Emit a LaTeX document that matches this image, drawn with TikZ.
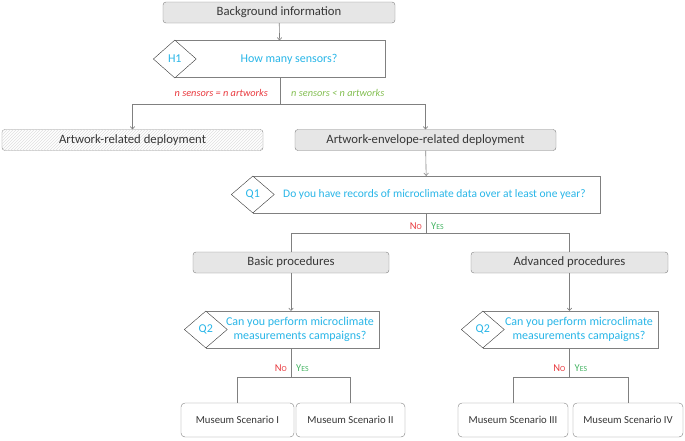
\documentclass[tikz,border=0pt]{standalone}
\usepackage{fontspec}
\setmainfont{Carlito}
\usepackage{tikz}
\usetikzlibrary{arrows.meta, positioning, shapes.geometric, patterns}

\definecolor{qcyan}{RGB}{41,182,232}
\definecolor{nored}{RGB}{232,56,61}
\definecolor{yesgreen}{RGB}{70,180,100}
\definecolor{ltgreen}{RGB}{130,190,80}
\definecolor{boxgray}{RGB}{230,230,230}
\definecolor{linegray}{RGB}{128,128,128}
\definecolor{txtgray}{RGB}{55,55,55}

% hand-made small caps (the font has none)
\newcommand{\fakesc}[2]{#1{\fontsize{7.8}{9}\selectfont\MakeUppercase{#2}}}

\begin{document}
\begin{tikzpicture}[
  x=1pt, y=-1pt,
  stepbox/.style={draw=linegray, rounded corners=3pt, fill=boxgray, minimum height=21pt,
              inner sep=0pt, align=center, text=txtgray, font=\fontsize{12.7}{14}\selectfont},
  scenbox/.style={stepbox, fill=white, minimum height=34pt, rounded corners=4pt,
              font=\fontsize{10.7}{12}\selectfont},
  qbox/.style={draw=linegray, fill=white, minimum height=37pt, inner sep=0pt},
  qdia/.style={draw=txtgray, fill=white, diamond, minimum width=43pt, minimum height=37pt,
              inner sep=0pt, text=qcyan, font=\fontsize{12}{13}\selectfont},
  qtext/.style={text=qcyan, align=center, font=\fontsize{12}{14}\selectfont},
  lab/.style={font=\fontsize{10.3}{11}\selectfont\itshape, inner sep=0pt},
  yn/.style={font=\fontsize{10.5}{12}\selectfont, inner sep=0pt},
  arr/.style={-{To[length=3pt,width=5pt]}, draw=linegray, line width=0.6pt},
  ln/.style={draw=linegray, line width=0.6pt}
]
  \useasboundingbox (0,0) rectangle (685,440);

  % top
  \node[stepbox, minimum width=232pt] (bg) at (279,12.5) {Background information};
  \node[qbox, minimum width=210pt] (h1box) at (280,59) {};
  \node[qdia, minimum height=38pt] (h1) at (h1box.west) {H1};
  \node[qtext] (h1q) at (289,59) {How many sensors?};
  \draw[arr] (bg) -- (h1box);

  % deployment
  \node[stepbox, minimum width=261pt, fill=white, postaction={pattern=north east lines, pattern color=black!12}]
      (art) at (132.5,140) {Artwork-related deployment};
  \node[stepbox, minimum width=261pt] (env) at (425.5,140) {Artwork-envelope-related deployment};
  \coordinate (h1split) at (280,104);
  \draw[ln] (h1box.south) -- (h1split);
  \draw[arr] (h1split) -| (art.north);
  \draw[arr] (h1split) -| (env.north);
  \node[lab, text=nored, anchor=east] at (268,93) {n sensors = n artworks};
  \node[lab, text=ltgreen, anchor=west] at (291,93) {n sensors < n artworks};

  % Q1
  \node[qbox, minimum width=347pt] (q1box) at (426.5,194.5) {};
  \node[qdia] (q1) at (q1box.west) {Q1};
  \node[qtext, font=\fontsize{11.5}{14}\selectfont] (q1q) at (434.5,194.5) {Do you have records of microclimate data over at least one year?};
  \draw[arr] (env) -- (q1box);

  \node[stepbox, minimum width=196pt] (basic) at (291,262.5) {Basic procedures};
  \node[stepbox, minimum width=197pt] (adv) at (569.5,262.5) {Advanced procedures};
  \coordinate (q1split) at (426.5,233);
  \draw[ln] (q1box.south) -- (q1split);
  \draw[ln] (q1split) -| (basic.north);
  \draw[ln] (q1split) -| (adv.north);
  \node[yn, text=nored, anchor=east] at (422,226) {\fakesc{N}{o}};
  \node[yn, text=yesgreen, anchor=west] at (431,226) {\fakesc{Y}{es}};

  % Q2 left
  \node[qbox, minimum width=173pt] (q2lbox) at (292.5,329.5) {};
  \node[qdia] (q2l) at (q2lbox.west) {Q2};
  \node[qtext] (q2lq) at (300,329.5) {Can you perform microclimate\\measurements campaigns?};
  \draw[arr] (basic.south) -- (basic.south |- q2lbox.north);

  \node[scenbox, minimum width=113pt] (sc1) at (237.5,420) {Museum Scenario I};
  \node[scenbox, minimum width=109pt] (sc2) at (350.5,420) {Museum Scenario II};
  \coordinate (q2lsplit) at (291,377);
  \draw[ln] (q2lsplit |- q2lbox.south) -- (q2lsplit);
  \draw[ln] (q2lsplit) -| (sc1.north);
  \draw[ln] (q2lsplit) -| (sc2.north);
  \node[yn, text=nored, anchor=east] at (287,368) {\fakesc{N}{o}};
  \node[yn, text=yesgreen, anchor=west] at (296,368) {\fakesc{Y}{es}};

  % Q2 right
  \node[qbox, minimum width=175pt] (q2rbox) at (570.5,329.5) {};
  \node[qdia] (q2r) at (q2rbox.west) {Q2};
  \node[qtext] (q2rq) at (579,329.5) {Can you perform microclimate\\measurements campaigns?};
  \draw[arr] (adv.south) -- (adv.south |- q2rbox.north);

  \node[scenbox, minimum width=110pt] (sc3) at (513,420) {Museum Scenario III};
  \node[scenbox, minimum width=110pt] (sc4) at (628,420) {Museum Scenario IV};
  \coordinate (q2rsplit) at (569.5,377);
  \draw[ln] (q2rsplit |- q2rbox.south) -- (q2rsplit);
  \draw[ln] (q2rsplit) -| (sc3.north);
  \draw[ln] (q2rsplit) -| (sc4.north);
  \node[yn, text=nored, anchor=east] at (565.5,368) {\fakesc{N}{o}};
  \node[yn, text=yesgreen, anchor=west] at (574.5,368) {\fakesc{Y}{es}};
\end{tikzpicture}
\end{document}
